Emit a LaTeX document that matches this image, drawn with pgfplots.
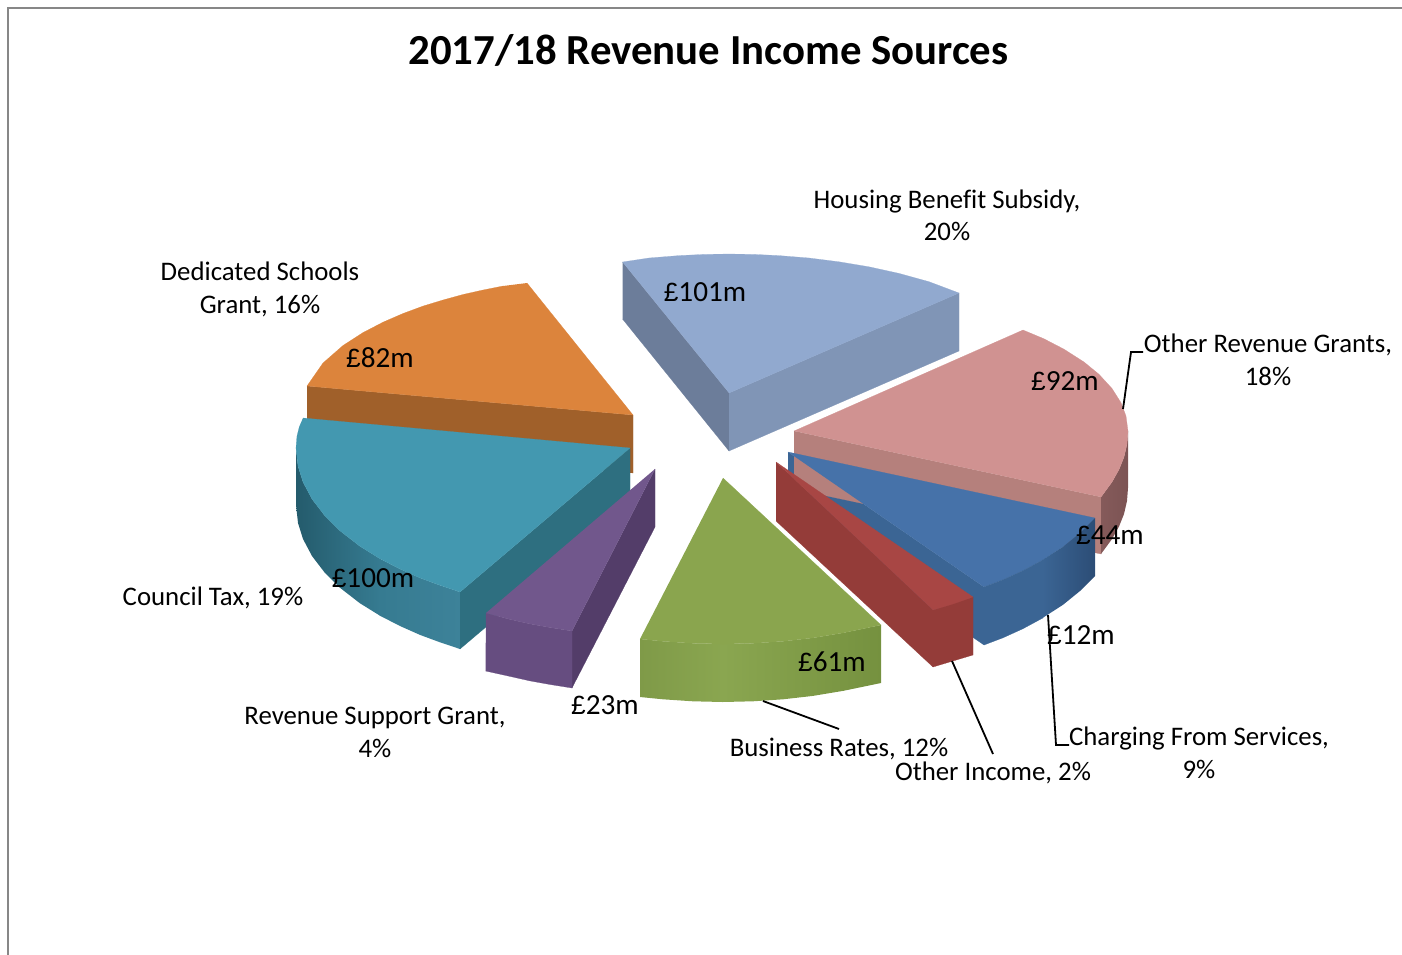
\documentclass[border=0pt]{standalone}
\usepackage{pgfplots}
\pgfplotsset{compat=1.18}
\usepackage{fontspec}
\setmainfont{Carlito}
\newfontfamily\poundfont[Scale=0.9]{Liberation Sans}
\newcommand{\pd}{{\poundfont £}}
\definecolor{hbT}{HTML}{91A9CF}\definecolor{hbL}{HTML}{6C7D9A}\definecolor{hbR}{HTML}{8095B6}
\definecolor{prT}{HTML}{D09291}\definecolor{prF}{HTML}{B5807C}\definecolor{prA}{HTML}{855A5A}\definecolor{prB}{HTML}{7C5454}
\definecolor{chT}{HTML}{4672A9}\definecolor{chF}{HTML}{3B6594}\definecolor{chB}{HTML}{2C4D76}
\definecolor{reT}{HTML}{A84644}\definecolor{reF}{HTML}{943C39}
\definecolor{grT}{HTML}{8AA54E}\definecolor{grA}{HTML}{7F9A48}\definecolor{grB}{HTML}{8AA650}\definecolor{grC}{HTML}{75913F}
\definecolor{puT}{HTML}{71578C}\definecolor{puF}{HTML}{664D80}\definecolor{puR}{HTML}{533D69}
\definecolor{teT}{HTML}{4398B0}\definecolor{teR}{HTML}{2E6F80}\definecolor{teA}{HTML}{245B6C}\definecolor{teM}{HTML}{367B91}\definecolor{teB}{HTML}{3D8299}
\definecolor{orT}{HTML}{DC843C}\definecolor{orF}{HTML}{A0602A}
\newcommand{\poly}[2]{\addplot[fill=#1,draw=#1,line width=0.2pt,no markers] coordinates {#2};}
\newcommand{\grad}[3]{\addplot[left color=#1,right color=#2,draw=none,no markers] coordinates {#3};}
\newcommand{\lab}[3]{\node[anchor=base,inner sep=0pt,font=\fontsize{26.8}{30}\selectfont] at (axis cs:#1,#2+9) {#3};}
\newcommand{\val}[3]{\node[anchor=base,inner sep=0pt,font=\fontsize{29.2}{32}\selectfont] at (axis cs:#1,#2+9) {#3};}
\begin{document}
\begin{tikzpicture}
\useasboundingbox (0,0) rectangle (1402pt,955pt);
\begin{axis}[
  scale only axis,width=1402pt,height=955pt,
  xmin=0,xmax=1402,ymin=0,ymax=955,y dir=reverse,
  hide axis,
]
% frame
\addplot[color=black!47,line width=2pt,no markers] coordinates {(8,955)(8,8.5)(1402,8.5)};
% Housing Benefit Subsidy
\poly{hbL}{(622.5,262)(729,393)(729,451)(622.5,319)}
\poly{hbR}{(729,393)(959,293)(959,351)(729,451)}
\poly{hbT}{(622.5,262)(649,258)(679,255.6)(704,254.4)(729,254)(754,254.4)(779,255.6)(809,258)(839,261.8)(869,266.8)(899,273.4)(929,281.7)(959,293)(729,393)}
% Charging side wall, under pink
\poly{chF}{(788,452)(984,587)(984,645)(788,510)}
% Other Revenue Grants
\poly{prF}{(794,431)(1101,497)(1101,554)(794,489)}
\grad{prA}{prB}{(1101,497)(1112,482)(1119,469.5)(1124,457)(1127,444)(1128,431)(1128,488)(1127,501)(1124,514)(1119,526.5)(1112,539)(1101,554)}
\poly{prT}{(794,431)(1023,330)(1044,338.8)(1064,349.2)(1084,362)(1099,374.3)(1112,388.5)(1121,402.7)(1126,416)(1128,431)(1127,444)(1124,457)(1119,469.5)(1112,482)(1101,497)}
% Charging From Services
\poly{chT}{(788,452)(1095,518)(1080,533)(1063,546.8)(1043,559.9)(1023,570.7)(1003,579.8)(984,587)}
\poly{chF}{(984,587)(1003,579.8)(1023,570.7)(1043,559.9)(1043,617.9)(1023,628.7)(1003,637.8)(984,645)}
\grad{chF}{chB}{(1042.5,560)(1063,546.8)(1080,533)(1095,518)(1095,576)(1080,591)(1063,604.8)(1042.5,618)}
% Other Income
\poly{reF}{(776,462)(933,610)(933,667)(776,521)}
\poly{reF}{(933,610)(973,597)(973,655)(933,667)}
\poly{reT}{(776,462)(973,597)(953,604)(933,610)}
% Dedicated Schools Grant
\poly{orF}{(307,386)(633,415)(633,473)(307,444)}
\poly{orT}{(527,283)(633,415)(307,386)(323,363)(343,345.5)(363,332.6)(383,322.2)(403,313.5)(423,306.1)(443,300)(463,294.5)(483,290)(503,286)}
% Council Tax
\poly{teR}{(630,448)(630,505)(460,649)(460,592)}
\grad{teA}{teM}{(296,448)(298,466)(303,482)(312,499)(325,516)(340,530.8)(360,546.3)(380,558.7)(380,615.7)(360,603.3)(340,587.8)(325,573)(312,556)(303,539)(298,523)(296,505)}
\grad{teM}{teB}{(379.5,558.5)(400,569)(420,577.9)(440,585.3)(460,592)(460,649)(440,642.3)(420,634.9)(400,626)(379.5,615.5)}
\poly{teT}{(303,418)(630,448)(460,592)(440,585.3)(420,577.9)(400,569)(380,558.7)(360,546.3)(340,530.8)(325,516)(312,499)(303,482)(298,466)(296,448)(297,436)(299.5,426)}
% Revenue Support Grant
\poly{puR}{(655,469)(655,527)(572,688)(572,631)}
\poly{puF}{(486,613)(510,619.4)(530,623.9)(550,627.5)(572,631)(572,688)(550,684.5)(530,680.9)(510,676.4)(485.5,671)}
\poly{puT}{(655,469)(572,631)(550,627.5)(530,623.9)(510,619.4)(486,613)}
% Business Rates
\grad{grA}{grB}{(640,639)(663,641.3)(693,643.3)(723,644)(723,702)(693,701.3)(663,699.3)(640,697)}
\grad{grB}{grC}{(722.5,644)(753,643.3)(783,641.3)(813,637.9)(843,632.9)(881,625)(881,683)(843,690.9)(813,695.9)(783,699.3)(753,701.3)(722.5,702)}
\poly{grT}{(723,478)(881,625)(843,632.9)(813,637.9)(783,641.3)(753,643.3)(723,644)(693,643.3)(663,641.3)(640,639)}
% leader lines
\addplot[black,line width=1.8pt,no markers] coordinates {(1123,409)(1131,352)(1143,352)};
\addplot[black,line width=1.8pt,no markers] coordinates {(1048,615)(1056,745)(1069,745)};
\addplot[black,line width=1.8pt,no markers] coordinates {(952,661)(993,754)};
\addplot[black,line width=1.8pt,no markers] coordinates {(763,701)(839,729)};
% texts
\node[anchor=base,inner sep=0pt,font=\fontsize{42.8}{48}\selectfont\bfseries] at (axis cs:708.5,65) {2017/18 Revenue Income Sources};
\lab{947}{199}{Housing Benef\kern0pt it Subsidy,}
\lab{947}{231}{20\%}
\lab{260}{271}{Dedicated Schools}
\lab{260}{304}{Grant, 16\%}
\lab{1268}{343}{Other Revenue Grants,}
\lab{1268}{376}{18\%}
\lab{213}{596}{Council Tax, 19\%}
\lab{375}{715}{Revenue Support Grant,}
\lab{375}{748}{4\%}
\lab{839}{747}{Business Rates, 12\%}
\lab{993}{771}{Other Income, 2\%}
\lab{1199}{736}{Charging From Services,}
\lab{1199}{769}{9\%}
\val{705}{292}{\pd 101m}
\val{1065}{381}{\pd 92m}
\val{380}{358}{\pd 82m}
\val{373}{578}{\pd 100m}
\val{1110}{535}{\pd 44m}
\val{1081}{635}{\pd 12m}
\val{832}{662}{\pd 61m}
\val{605}{705}{\pd 23m}
\end{axis}
\end{tikzpicture}
\end{document}
